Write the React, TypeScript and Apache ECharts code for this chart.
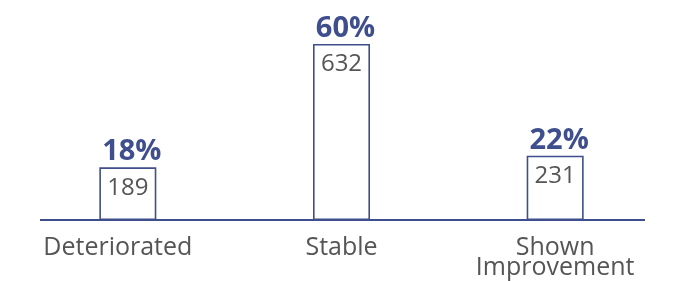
import React, { useEffect, useRef } from "react";
import * as echarts from "echarts";

const categories = ["Deteriorated", "Stable", "Shown\nImprovement"];
const counts = [189, 632, 231];
const percents = ["18%", "60%", "22%"];

const BLUE = "#3f4e8c";
const GREY = "#555555";
const FONT = "'Open Sans', 'Noto Sans', sans-serif";

export default function App() {
  const ref = useRef<HTMLDivElement>(null);
  useEffect(() => {
    if (!ref.current) return;
    const chart = echarts.init(ref.current, undefined, { renderer: "svg" });
    chart.setOption({
      animation: false,
      grid: { left: 21, right: 16, top: 25, bottom: 61 },
      xAxis: {
        type: "category",
        data: categories.map((c, i) =>
          i === 0 ? { value: c, textStyle: { padding: [0, 20, 0, 0] } } : c
        ),
        axisLine: { show: false },
        axisTick: { show: false },
        axisLabel: {
          color: GREY,
          fontSize: 25,
          fontFamily: FONT,
          margin: 15,
          lineHeight: 20,
          interval: 0,
        },
      },
      yAxis: { type: "value", min: 0, max: 700, show: false, splitLine: { show: false } },
      series: [
        {
          type: "bar",
          data: counts,
          barWidth: 57,
          itemStyle: { color: "#ffffff", borderColor: BLUE, borderWidth: 1.6 },
          label: {
            show: true,
            position: "insideTop",
            distance: 6,
            color: GREY,
            fontSize: 24,
            fontFamily: FONT,
          },
          z: 2,
        },
        {
          type: "bar",
          data: counts,
          barWidth: 57,
          barGap: "-100%",
          itemStyle: { color: "rgba(0,0,0,0)" },
          label: {
            show: true,
            position: "top",
            distance: 4,
            color: BLUE,
            fontSize: 29,
            fontWeight: "bold",
            fontFamily: FONT,
            padding: [0, 0, 0, 8],
            formatter: (p: any) => percents[p.dataIndex],
          },
          z: 3,
        },
      ],
      graphic: [
        {
          type: "line",
          shape: { x1: 40, y1: 220, x2: 645, y2: 220 },
          style: { stroke: BLUE, lineWidth: 2 },
          z: 10,
        },
      ],
    });
    return () => chart.dispose();
  }, []);
  return (
    <div
      ref={ref}
      style={{ position: "fixed", left: 0, top: 0, width: 678, height: 281 }}
    />
  );
}
